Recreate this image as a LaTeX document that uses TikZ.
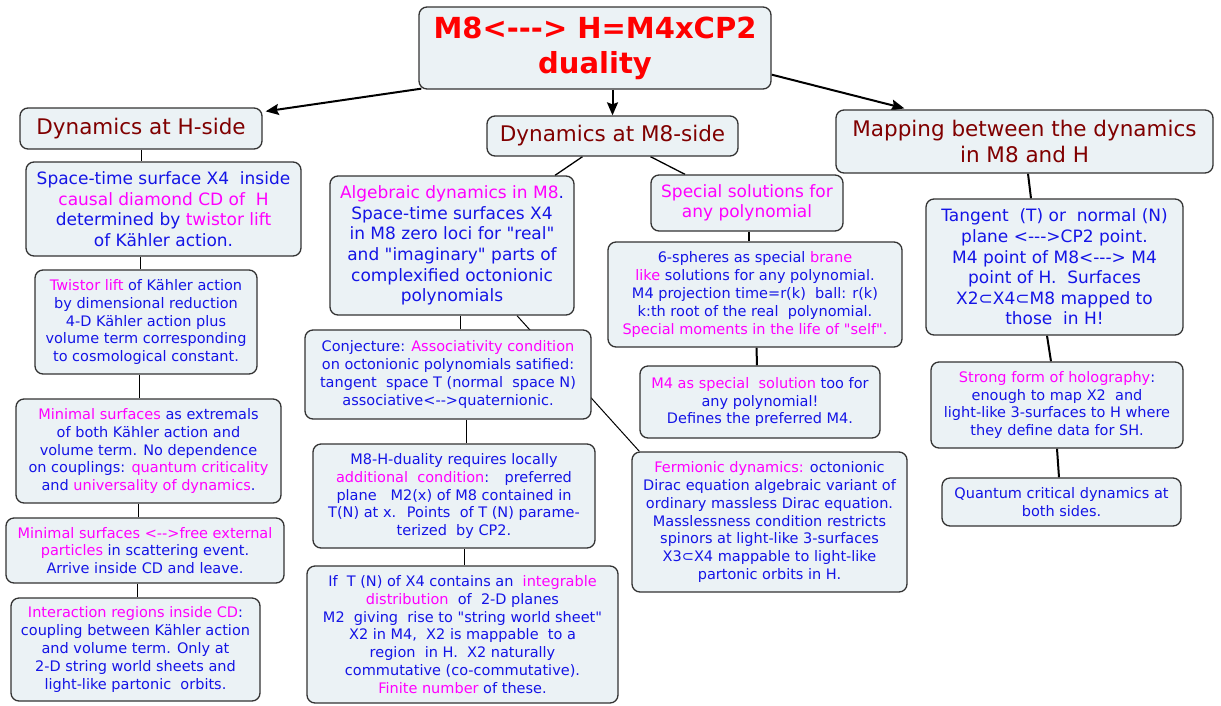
\documentclass[tikz,border=0pt]{standalone}
\usepackage{fontspec}
\setmainfont{DejaVu Sans}[Ligatures=TeXOff]
\usetikzlibrary{arrows.meta,backgrounds}
\definecolor{boxfill}{HTML}{EBF2F5}
\definecolor{boxline}{HTML}{333333}
\definecolor{txtblue}{RGB}{20,20,230}
\definecolor{mag}{RGB}{255,0,255}
\definecolor{hdred}{HTML}{800000}
\definecolor{ttlred}{RGB}{255,0,0}
\newcommand\mg[1]{\textcolor{mag}{#1}}
\begin{document}
\begin{tikzpicture}[x=1pt,y=-1pt,
 box/.style={draw=boxline, line width=1.3pt, rounded corners=8pt, fill=boxfill, align=center, inner sep=0pt, text=txtblue},
 big/.style={box, font=\fontsize{17}{20.6}\selectfont},
 small/.style={box, font=\fontsize{14.5}{17.8}\selectfont},
 hdr/.style={box, text=hdred, font=\fontsize{21.5}{26}\selectfont},
 arr/.style={line width=2pt, -{Stealth[length=13pt,width=11pt,inset=2pt]}},
 lnthin/.style={line width=1pt, draw=black},
 lnmid/.style={line width=1.3pt, draw=black},
 lnthick/.style={line width=2pt, draw=black}]
\useasboundingbox (0,0) rectangle (1221,705);

% title
\node[box, text=ttlred, font=\bfseries\fontsize{29}{35}\selectfont, minimum width=352pt, minimum height=82pt] (title) at (595,48) {M8<---> H=M4xCP2\\duality};

% headers
\node[hdr, minimum width=242pt, minimum height=41pt] (hside) at (141,128.5) {Dynamics at H-side};
\node[hdr, minimum width=251pt, minimum height=40pt] (m8) at (612.5,136) {Dynamics at M8-side};
\node[hdr, minimum width=377pt, minimum height=63pt] (map) at (1024.5,141.5) {Mapping between the dynamics\\in M8 and H};

% H side
\node[big, minimum width=275pt, minimum height=94pt] (st) at (163.5,209) {Space-time surface X4 \ inside\\\mg{causal diamond CD of \ H}\\determined by \mg{twistor lift}\\of Kähler action.};
\node[small, minimum width=222pt, minimum height=104pt] (tw) at (146,322) {\mg{Twistor lift} of Kähler action\\by dimensional reduction\\4-D Kähler action plus\\volume term corresponding\\to cosmological constant.};
\node[small, minimum width=265pt, minimum height=104pt] (ms) at (148.5,451) {\mg{Minimal surfaces} as extremals\\of both Kähler action and\\volume term. No dependence\\on couplings: \mg{quantum criticality}\\and \mg{universality of dynamics}.};
\node[small, minimum width=278pt, minimum height=65pt] (mf) at (145,550.5) {\mg{Minimal surfaces <-->free external}\\\mg{particles} in scattering event.\\Arrive inside CD and leave.};
\node[small, minimum width=249pt, minimum height=103pt] (ir) at (135.5,649.5) {\mg{Interaction regions inside CD}:\\coupling between Kähler action\\and volume term. Only at\\2-D string world sheets and\\light-like partonic \ orbits.};

% M8 side
\node[big, minimum width=244pt, minimum height=139pt] (alg) at (452,245.5) {\mg{Algebraic dynamics in M8}.\\Space-time surfaces X4\\in M8 zero loci for "real"\\and "imaginary" parts of\\complexified octonionic\\polynomials};
\node[small, minimum width=286pt, minimum height=89pt] (conj) at (448,374.5) {Conjecture: \mg{Associativity condition}\\on octonionic polynomials satified:\\tangent \ space T (normal \ space N)\\associative<-->quaternionic.};
\node[small, minimum width=282pt, minimum height=104pt] (dual) at (454,496) {M8-H-duality requires locally\\\mg{additional \ condition}: \ \ preferred\\plane \ \ M2(x) of M8 contained in\\T(N) at x. \ Points \ of T (N) parame-\\terized \ by CP2.};
\node[small, minimum width=311pt, minimum height=137pt] (iff) at (462.5,634.5) {If \ T (N) of X4 contains an \ \mg{integrable}\\\mg{distribution} \ of \ 2-D planes\\M2 \ giving \ rise to "string world sheet"\\X2 in M4, \ X2 is mappable \ to a\\region \ in H. \ X2 naturally\\commutative (co-commutative).\\\mg{Finite number} of these.};

\node[big, text=mag, minimum width=192pt, minimum height=56pt] (spec) at (747,203) {Special solutions for\\any polynomial};
\node[small, minimum width=294pt, minimum height=105pt] (six) at (755,294.5) {6-spheres as special \mg{brane}\\\mg{like} solutions for any polynomial.\\M4 projection time=r(k) \ ball: r(k)\\k:th root of the real \ polynomial.\\\mg{Special moments in the life of "self".}};
\node[small, minimum width=240pt, minimum height=72pt] (m4s) at (760,402) {\mg{M4 as special \ solution} too for\\any polynomial!\\Defines the preferred M4.};
\node[small, minimum width=275pt, minimum height=140pt] (ferm) at (769.5,522) {\mg{Fermionic dynamics:} octonionic\\Dirac equation algebraic variant of\\ordinary massless Dirac equation.\\Masslessness condition restricts\\spinors at light-like 3-surfaces\\X3⊂X4 mappable to light-like\\partonic orbits in H.};

% mapping side
\node[big, minimum width=257pt, minimum height=136pt] (tan) at (1054.5,267) {Tangent \ (T) or \ normal (N)\\plane <--->CP2 point.\\M4 point of M8<---> M4\\point of H. \ Surfaces\\X2⊂X4⊂M8 mapped to\\those \ in H!};
\node[small, minimum width=252pt, minimum height=86pt] (str) at (1057,405) {\mg{Strong form of holography}:\\enough to map X2 \ and\\light-like 3-surfaces to H where\\they define data for SH.};
\node[small, minimum width=239pt, minimum height=48pt] (qc) at (1061.5,502) {Quantum critical dynamics at\\both sides.};

\begin{pgfonlayer}{background}
% arrows from title
\draw[arr] ([xshift=3pt,yshift=1pt]title.south west) -- ([xshift=3pt,yshift=-4pt]hside.north east);
\draw[arr] (m8.north |- title.south) -- (m8.north);
\draw[arr] ([yshift=15pt]title.south east) -- ([xshift=69pt,yshift=1pt]map.north west);
% H side
\draw[lnthin] (hside.south) -- (hside.south |- st.north);
\draw[lnthin] ([xshift=-23.5pt]st.south) -- ([xshift=-23.5pt]st.south |- tw.north);
\draw[lnthin] ([xshift=-7pt]tw.south) -- ([xshift=-7pt]tw.south |- ms.north);
\draw[lnthin] ([xshift=-10.5pt]ms.south) -- ([xshift=-10.5pt]ms.south |- mf.north);
\draw[lnthin] ([xshift=-8pt]mf.south) -- ([xshift=-8pt]mf.south |- ir.north);
% M8 side
\draw[lnmid] ([xshift=-30pt]m8.south) -- ([xshift=103pt]alg.north);
\draw[lnmid] ([xshift=38pt]m8.south) -- ([xshift=-62pt]spec.north);
\draw[lnthin] ([xshift=8pt]alg.south) -- ([xshift=8pt]alg.south |- conj.north);
\draw[lnthin] ([xshift=65pt]alg.south) -- ([xshift=8pt]ferm.north west);
\draw[lnthin] ([xshift=18pt]conj.south) -- ([xshift=18pt]conj.south |- dual.north);
\draw[lnthin] ([xshift=10pt]dual.south) -- ([xshift=10pt]dual.south |- iff.north);
\draw[lnthick] ([xshift=2pt]spec.south) -- ([xshift=2pt]spec.south |- six.north);
\draw[lnthick] ([xshift=1.5pt]six.south) -- ([xshift=-3pt]m4s.north);
% mapping side
\draw[lnthick] ([xshift=3.5pt]map.south) -- ([xshift=-23.5pt]tan.north);
\draw[lnthick] ([xshift=-7.5pt]tan.south) -- ([xshift=-6pt]str.north);
\draw[lnthick] (str.south) -- ([xshift=-2.5pt]qc.north);
\end{pgfonlayer}
\end{tikzpicture}
\end{document}
